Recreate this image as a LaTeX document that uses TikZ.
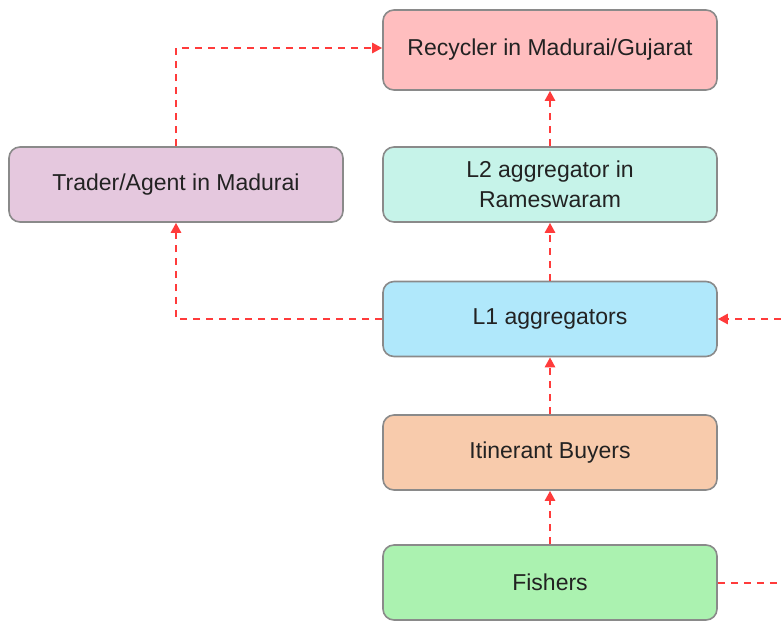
\documentclass[tikz,border=0pt]{standalone}
\usepackage{fontspec}
\setmainfont{Liberation Sans}
\usetikzlibrary{arrows.meta}
\definecolor{cRec}{HTML}{FFBEBF}
\definecolor{cTra}{HTML}{E5C8DE}
\definecolor{cL2}{HTML}{C6F3E9}
\definecolor{cL1}{HTML}{B0E8FB}
\definecolor{cIti}{HTML}{F8CBAC}
\definecolor{cFis}{HTML}{ABF2B0}
\definecolor{cEdge}{HTML}{8A8A8A}
\definecolor{cFlow}{HTML}{FF3B3B}
\definecolor{cText}{HTML}{222222}
\tikzset{
  box/.style={draw=cEdge, line width=1.6pt, rounded corners=11pt, minimum width=334pt, minimum height=75pt, inner sep=0pt, align=center, font=\fontsize{23}{30}\selectfont, text=cText},
  flow/.style={draw=cFlow, line width=2.7pt, dash pattern=on 7pt off 6pt, -{Triangle[length=10pt,width=10pt]}},
  flowfree/.style={draw=cFlow, line width=2.7pt, dash pattern=on 7pt off 6pt}
}
\begin{document}
\begin{tikzpicture}[x=1pt,y=-1pt]
\useasboundingbox (0,0) rectangle (781,622);
\node[box, fill=cRec, minimum height=80pt] (rec) at (550,50) {Recycler in Madurai/Gujarat};
\node[box, fill=cTra] (tra) at (176,184.5) {Trader/Agent in Madurai};
\node[box, fill=cL2] (l2) at (550,184.5) {L2 aggregator in\\Rameswaram};
\node[box, fill=cL1] (l1) at (550,319) {L1 aggregators};
\node[box, fill=cIti] (iti) at (550,452.5) {Itinerant Buyers};
\node[box, fill=cFis] (fis) at (550,582.5) {Fishers};
\coordinate (inR) at (781,319);
\coordinate (outR) at (781,583);
\draw[flow] (fis) -- (iti);
\draw[flow] (iti) -- (l1);
\draw[flow] (l1) -- (l2);
\draw[flow] (l2) -- (rec);
\draw[flow] (l1.west) -| (tra.south);
\draw[flow] (tra.north) |- (rec.west |- 0,48);
\draw[flow] (inR) -- (l1.east);
\draw[flowfree] (fis.east |- outR) -- (outR);
\end{tikzpicture}
\end{document}
